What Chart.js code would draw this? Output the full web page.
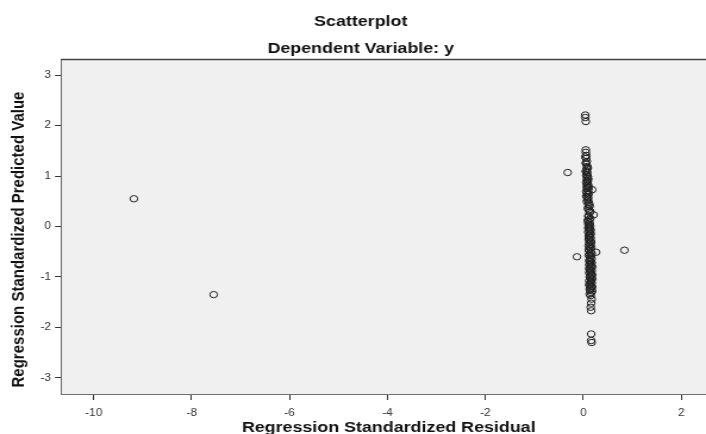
<!DOCTYPE html>
<html>
<head>
<meta charset="utf-8">
<script src="https://cdn.jsdelivr.net/npm/chart.js@4/dist/chart.umd.min.js"></script>
<style>
  html, body { margin: 0; padding: 0; background: #ffffff; overflow: hidden; }
  #wrap { width: 706px; height: 434px; overflow: hidden; position: relative; }
  /* the chart is laid out narrow and widened horizontally */
  #chart { display: block; transform: scaleX(1.1906); transform-origin: 0 0; }
</style>
</head>
<body>
<div id="wrap"><canvas id="chart" width="606" height="434" style="width:606px;height:434px"></canvas></div>
<script>
// Regression diagnostics: standardized residual vs standardized predicted value
const residual = [
  -9.18, -7.55, -0.32, 0.84, -0.13, 0.26,
  0.04, 0.04, 0.05,
  0.05, 0.05, 0.06, 0.06, 0.07, 0.06, 0.08, 0.07, 0.06, 0.08,
  0.07, 0.09, 0.08, 0.07, 0.09, 0.08, 0.10, 0.09, 0.07, 0.18,
  0.10, 0.08, 0.09, 0.06, 0.10, 0.09, 0.11, 0.10, 0.12, 0.11,
  0.13, 0.21, 0.11, 0.12, 0.10, 0.13, 0.12, 0.11, 0.13, 0.12,
  0.14, 0.12, 0.13, 0.11, 0.14, 0.12, 0.15, 0.13, 0.14, 0.12,
  0.15, 0.13, 0.16, 0.14, 0.13, 0.15, 0.14, 0.16, 0.13, 0.15,
  0.14, 0.16, 0.15, 0.14, 0.16, 0.15, 0.13, 0.16, 0.15, 0.14,
  0.16, 0.15, 0.17, 0.16, 0.15, 0.16,
  0.04, 0.05, 0.09, 0.05, 0.06, 0.10, 0.06, 0.07, 0.11, 0.06,
  0.11, 0.08, 0.07, 0.13, 0.09, 0.14, 0.10, 0.14, 0.09, 0.10,
  0.14, 0.10, 0.15, 0.10, 0.15, 0.11, 0.15, 0.12, 0.16, 0.11,
  0.16, 0.11, 0.17, 0.11, 0.17, 0.12, 0.17, 0.12, 0.18, 0.12,
  0.17, 0.12, 0.18, 0.13, 0.18, 0.12, 0.17, 0.12, 0.18, 0.13,
  0.18, 0.13,
  0.16, 0.16, 0.17
];
const predicted = [
  0.55, -1.35, 1.07, -0.47, -0.60, -0.51,
  2.21, 2.16, 2.08,
  1.52, 1.47, 1.41, 1.35, 1.29, 1.24, 1.19, 1.15, 1.11, 1.07,
  1.03, 0.99, 0.96, 0.92, 0.89, 0.85, 0.82, 0.78, 0.75, 0.73,
  0.71, 0.67, 0.63, 0.60, 0.57, 0.53, 0.48, 0.44, 0.39, 0.33,
  0.28, 0.23, 0.19, 0.14, 0.10, 0.07, 0.03, -0.01, -0.05, -0.09,
  -0.13, -0.17, -0.21, -0.25, -0.29, -0.33, -0.36, -0.40, -0.44, -0.48,
  -0.51, -0.55, -0.58, -0.62, -0.66, -0.70, -0.74, -0.78, -0.82, -0.86,
  -0.90, -0.94, -0.98, -1.02, -1.06, -1.10, -1.14, -1.18, -1.22, -1.26,
  -1.31, -1.37, -1.44, -1.52, -1.60, -1.67,
  1.38, 1.26, 1.16, 1.09, 1.01, 0.94, 0.87, 0.80, 0.77, 0.69,
  0.65, 0.58, 0.50, 0.42, 0.36, 0.30, 0.21, 0.16, 0.12, 0.05,
  0.01, -0.03, -0.07, -0.11, -0.15, -0.19, -0.23, -0.27, -0.31, -0.38,
  -0.42, -0.46, -0.53, -0.57, -0.64, -0.68, -0.72, -0.76, -0.80, -0.84,
  -0.88, -0.92, -0.96, -1.00, -1.04, -1.08, -1.12, -1.16, -1.20, -1.24,
  -1.28, -1.34,
  -2.13, -2.26, -2.30
];
const xTicks = [-10, -8, -6, -4, -2, 0, 2];
const yTicks = [-3, -2, -1, 0, 1, 2, 3];
const X_MIN = -10.67, X_MAX = 2.72;
const Y_MIN = -3.32, Y_MAX = 3.32;
const yTitle = 'Regression Standardized Predicted Value';

const points = residual.map((x, i) => ({ x: x, y: predicted[i] }));

const FONT = '"Liberation Sans", Arial, Helvetica, sans-serif';

// light grey plot background, dark frame on top, rotated y-axis caption
const plotFrame = {
  id: 'plotFrame',
  beforeDraw(chart) {
    const { ctx, chartArea: a } = chart;
    ctx.save();
    ctx.fillStyle = '#f0f0f0';
    ctx.fillRect(a.left, a.top, a.right - a.left, a.bottom - a.top);
    ctx.restore();
  },
  afterDraw(chart) {
    const { ctx, chartArea: a } = chart;
    ctx.save();
    ctx.strokeStyle = '#444444';
    ctx.lineWidth = 1.6;
    ctx.beginPath();
    ctx.moveTo(a.left, a.top + 0.5);
    ctx.lineTo(a.right, a.top + 0.5);
    ctx.moveTo(a.right - 0.5, a.top);
    ctx.lineTo(a.right - 0.5, a.bottom);
    ctx.stroke();

    // y caption sits a little below the middle of the plot
    ctx.translate(16, (a.top + a.bottom) / 2 + 13);
    ctx.rotate(-Math.PI / 2);
    ctx.fillStyle = '#111111';
    ctx.font = 'bold 15px ' + FONT;
    ctx.textAlign = 'center';
    ctx.textBaseline = 'middle';
    ctx.fillText(yTitle, 0, 0);
    ctx.restore();
  }
};

new Chart(document.getElementById('chart'), {
  type: 'scatter',
  data: {
    datasets: [{
      data: points,
      pointStyle: 'circle',
      pointRadius: 3.2,
      pointHoverRadius: 3.2,
      borderWidth: 1,
      borderColor: '#222222',
      backgroundColor: 'rgba(0,0,0,0)'
    }]
  },
  options: {
    responsive: false,
    animation: false,
    devicePixelRatio: 1,
    layout: { padding: 0 },
    events: [],
    plugins: {
      legend: { display: false },
      tooltip: { enabled: false },
      title: {
        display: true,
        text: 'Scatterplot',
        color: '#111111',
        font: { family: FONT, size: 15, weight: 'bold', lineHeight: 1.2 },
        padding: { top: 13, bottom: 0 }
      },
      subtitle: {
        display: true,
        text: 'Dependent Variable: y',
        color: '#111111',
        font: { family: FONT, size: 15, weight: 'bold', lineHeight: 1.2 },
        padding: { top: 9, bottom: 1 }
      }
    },
    scales: {
      x: {
        type: 'linear',
        position: 'bottom',
        min: X_MIN,
        max: X_MAX,
        afterBuildTicks(scale) { scale.ticks = xTicks.map(v => ({ value: v })); },
        afterFit(scale) { scale.height = 40; },
        grid: { drawOnChartArea: false, drawTicks: true, tickLength: 6, tickColor: '#333333', tickWidth: 1 },
        border: { display: true, color: '#6f6f6f', width: 1 },
        ticks: {
          autoSkip: false, maxRotation: 0, padding: 7, color: '#333333',
          font: { family: FONT, size: 10 }
        },
        title: {
          display: true,
          text: 'Regression Standardized Residual',
          color: '#111111',
          font: { family: FONT, size: 15, weight: 'bold', lineHeight: 1 },
          padding: { top: 0, bottom: -1.5 }
        }
      },
      y: {
        type: 'linear',
        position: 'left',
        min: Y_MIN,
        max: Y_MAX,
        afterBuildTicks(scale) { scale.ticks = yTicks.map(v => ({ value: v })); },
        afterFit(scale) { scale.width = 51.2; },
        grid: { drawOnChartArea: false, drawTicks: true, tickLength: 5, tickColor: '#333333', tickWidth: 1 },
        border: { display: true, color: '#6f6f6f', width: 1 },
        ticks: {
          autoSkip: false, padding: 3.4, color: '#333333',
          font: { family: FONT, size: 10 }
        },
        title: { display: false }
      }
    }
  },
  plugins: [plotFrame]
});
</script>
</body>
</html>
